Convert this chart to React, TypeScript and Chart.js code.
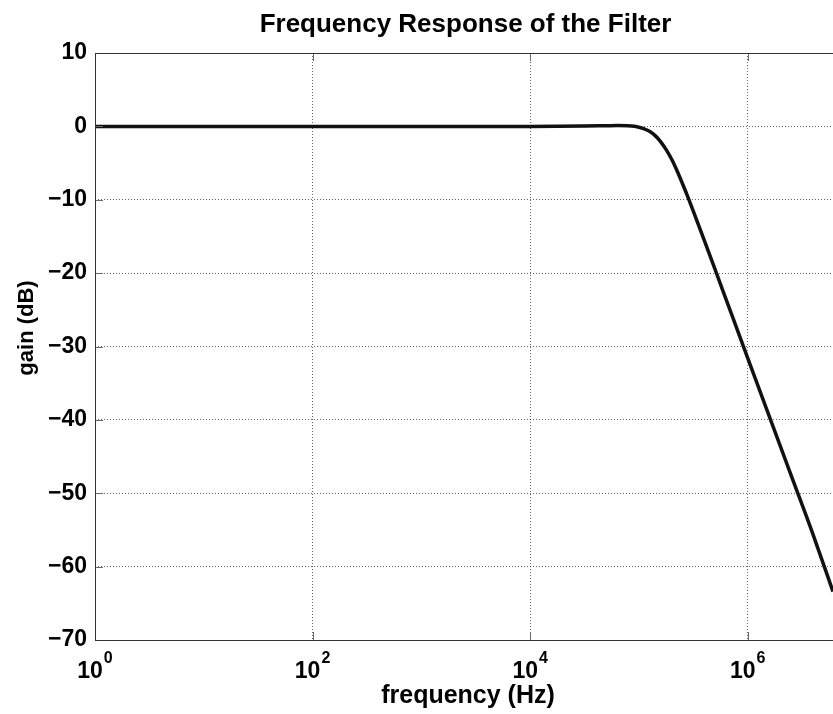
import React, { useEffect, useRef } from "react";
import { Chart, registerables } from "chart.js";

Chart.register(...registerables);

const FONT = '"Liberation Sans", Arial, Helvetica, sans-serif';

// Frequency points (Hz)
const freqHz = [
  1, 10, 100, 1000, 10000, 31600, 50000, 63000, 79000, 100000, 112000, 126000,
  141000, 158000, 178000, 200000, 224000, 251000, 282000, 316000, 398000, 501000,
  631000, 1000000, 1585000, 2512000, 3981000, 6080000,
];
// Gain (dB) read at those frequencies
const gainDb = [
  0, 0, 0, 0, 0, 0.05, 0.09, 0.11, 0.07, -0.11, -0.33, -0.7, -1.26, -2.07, -3.16,
  -4.49, -6.05, -7.78, -9.63, -11.54, -15.49, -19.5, -23.53, -31.57, -39.59,
  -47.6, -55.6, -63.4,
];

const xTickValues = [1, 100, 10000, 1000000];
const xTickBase = ["10", "10", "10", "10"];
const xTickExponents = ["0", "2", "4", "6"];
const yTickValues = [10, 0, -10, -20, -30, -40, -50, -60, -70];

const titleText = "Frequency Response of the Filter";
const xTitleText = "frequency (Hz)";
const yTitleText = "gain (dB)";

const X_MIN = 1;
const X_MAX = 6080000;
const Y_MIN = -70;
const Y_MAX = 10;

const decorPlugin = {
  id: "decor",
  afterDraw(chart: any) {
    const { ctx, chartArea: a, scales } = chart;
    const xs = scales.x;
    const ys = scales.y;
    ctx.save();

    // inward tick marks
    ctx.strokeStyle = "#6a6a6a";
    ctx.lineWidth = 1;
    ctx.beginPath();
    xTickValues.forEach((v) => {
      const px = Math.round(xs.getPixelForValue(v)) + 0.5;
      ctx.moveTo(px, a.bottom);
      ctx.lineTo(px, a.bottom - 8);
      ctx.moveTo(px, a.top);
      ctx.lineTo(px, a.top + 8);
    });
    yTickValues.forEach((v) => {
      const py = Math.round(ys.getPixelForValue(v)) + 0.5;
      ctx.moveTo(a.left, py);
      ctx.lineTo(a.left + 8, py);
    });
    ctx.stroke();

    // frame
    ctx.strokeStyle = "#333333";
    ctx.beginPath();
    ctx.moveTo(a.left, Math.round(a.top) + 0.5);
    ctx.lineTo(a.right, Math.round(a.top) + 0.5);
    ctx.moveTo(Math.round(a.left) + 0.5, a.top);
    ctx.lineTo(Math.round(a.left) + 0.5, a.bottom + 1);
    ctx.moveTo(a.left, Math.round(a.bottom) + 0.5);
    ctx.lineTo(a.right, Math.round(a.bottom) + 0.5);
    ctx.stroke();

    ctx.fillStyle = "#000000";

    // x tick labels with superscript exponents
    xTickValues.forEach((v, i) => {
      const px = xs.getPixelForValue(v);
      ctx.font = `bold 23px ${FONT}`;
      const w1 = ctx.measureText(xTickBase[i]).width;
      ctx.font = `bold 16px ${FONT}`;
      const w2 = ctx.measureText(xTickExponents[i]).width;
      const start = px - (w1 + w2 + 1) / 2;
      ctx.textAlign = "left";
      ctx.textBaseline = "alphabetic";
      ctx.font = `bold 23px ${FONT}`;
      ctx.fillText(xTickBase[i], start, 678);
      ctx.font = `bold 16px ${FONT}`;
      ctx.fillText(xTickExponents[i], start + w1 + 1, 663);
    });

    // title
    ctx.font = `bold 26px ${FONT}`;
    ctx.textAlign = "center";
    ctx.textBaseline = "alphabetic";
    ctx.fillText(titleText, 465.5, 31.5);

    // x title
    ctx.font = `bold 25px ${FONT}`;
    ctx.fillText(xTitleText, 468, 702.5);

    // y title
    ctx.save();
    ctx.translate(32.5, 328);
    ctx.rotate(-Math.PI / 2);
    ctx.font = `bold 22px ${FONT}`;
    ctx.textAlign = "center";
    ctx.textBaseline = "alphabetic";
    ctx.fillText(yTitleText, 0, 0);
    ctx.restore();

    ctx.restore();
  },
};

export default function App() {
  const canvasRef = useRef<HTMLCanvasElement | null>(null);

  useEffect(() => {
    const canvas = canvasRef.current;
    if (!canvas) return;
    const points = freqHz.map((f, i) => ({ x: f, y: gainDb[i] }));
    const chart = new Chart(canvas, {
      type: "line",
      data: {
        datasets: [
          {
            label: "gain",
            data: points,
            borderColor: "#111111",
            borderWidth: 3.5,
            pointRadius: 0,
            cubicInterpolationMode: "monotone",
            fill: false,
          },
        ],
      },
      options: {
        animation: false,
        responsive: true,
        maintainAspectRatio: false,
        layout: { padding: { top: 53, left: 0, right: 0, bottom: 0 } },
        plugins: {
          legend: { display: false },
          title: { display: false },
          tooltip: { enabled: false },
        },
        scales: {
          x: {
            type: "logarithmic",
            min: X_MIN,
            max: X_MAX,
            afterBuildTicks: (scale: any) => {
              scale.ticks = xTickValues.map((v) => ({ value: v }));
            },
            afterFit: (scale: any) => {
              scale.height = 74;
            },
            ticks: { display: false },
            grid: {
              display: true,
              drawTicks: false,
              color: "rgba(0,0,0,0.6)",
              lineWidth: 1,
            },
            border: { display: false, dash: [1, 2] },
            title: { display: false },
          },
          y: {
            type: "linear",
            min: Y_MIN,
            max: Y_MAX,
            afterBuildTicks: (scale: any) => {
              scale.ticks = yTickValues.map((v) => ({ value: v }));
            },
            afterFit: (scale: any) => {
              scale.width = 95;
            },
            ticks: {
              color: "#000000",
              padding: 8,
              font: { family: FONT, size: 23, weight: "bold" },
              callback: (v: any) => (Number(v) < 0 ? "\u2212" + Math.abs(Number(v)) : String(v)),
            },
            grid: {
              display: true,
              drawTicks: false,
              color: "rgba(0,0,0,0.6)",
              lineWidth: 1,
            },
            border: { display: false, dash: [1, 2] },
            title: { display: false },
          },
        },
      },
      plugins: [decorPlugin],
    } as any);
    return () => chart.destroy();
  }, []);

  return (
    <div style={{ position: "fixed", left: 0, top: 0, width: 833, height: 714, background: "#ffffff" }}>
      <canvas ref={canvasRef} />
    </div>
  );
}
